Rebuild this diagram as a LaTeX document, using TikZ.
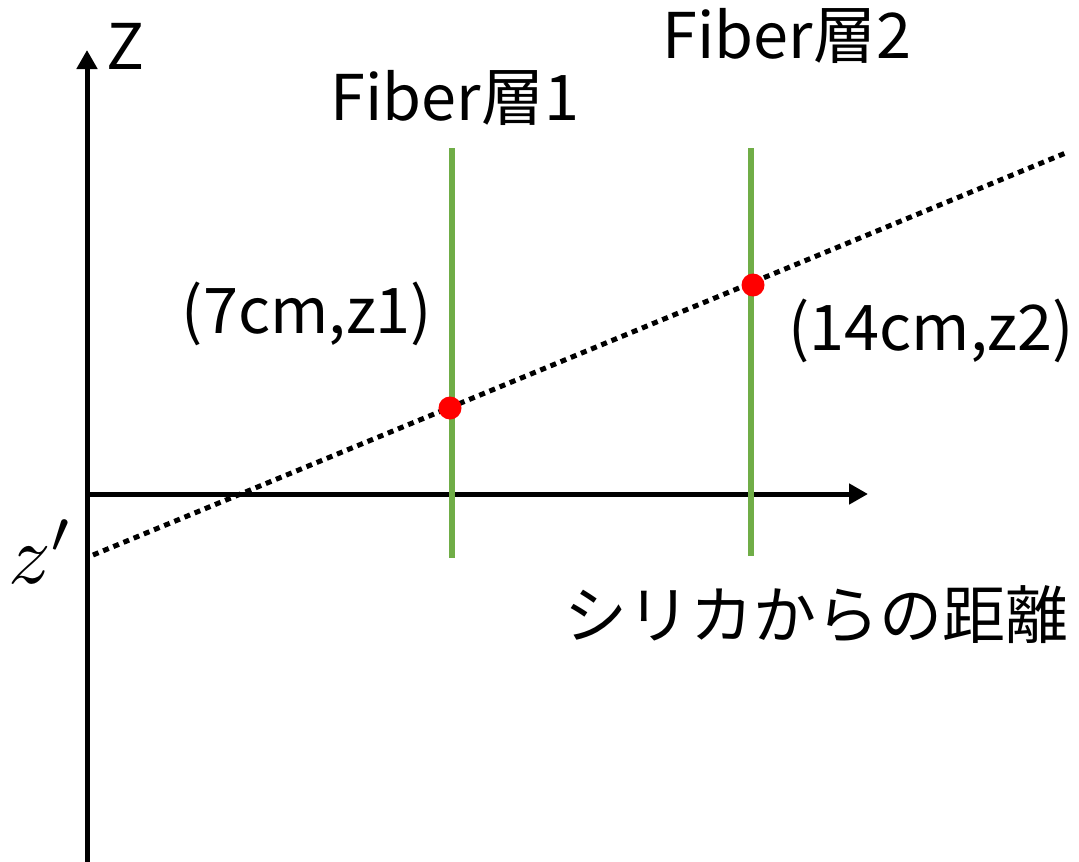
\documentclass[tikz,border=0pt]{standalone}
\usepackage{graphicx}
\usepackage{fontspec}
\setmainfont{Noto Sans CJK JP}
\usetikzlibrary{arrows.meta}
\begin{document}
\begin{tikzpicture}[x=1pt,y=-1pt,
  axisline/.style={line width=5pt,draw=black,-{Triangle[length=19pt,width=20pt]}},
  fiberline/.style={line width=6pt,draw=fibergreen},
  pathline/.style={line width=5pt,draw=black,dash pattern=on 6pt off 5pt},
  hitdot/.style={circle,fill=red,inner sep=0pt,minimum size=23pt},
  lbl/.style={font=\fontsize{63}{70}\selectfont,inner sep=0pt,anchor=base}]
\definecolor{fibergreen}{HTML}{70AD47}
\useasboundingbox (0,0) rectangle (1079,862);
% axes
\coordinate (o) at (87,494);
\coordinate (zb) at (87,862);
\coordinate (zt) at (87,50);
\coordinate (xt) at (868,494);
\draw[axisline] (zb) -- (zt);
\draw[axisline] (o) -- (xt);
% fiber layers
\coordinate (f1t) at (452,148);
\coordinate (f1b) at (452,558);
\coordinate (f2t) at (751,148);
\coordinate (f2b) at (751,556);
\draw[fiberline] (f1t) -- (f1b);
\draw[fiberline] (f2t) -- (f2b);
% track
\coordinate (ps) at (93,555);
\coordinate (pe) at (1068,152);
\draw[pathline] (ps) -- (pe);
% hit points
\node[hitdot] (h1) at (450,408) {};
\node[hitdot] (h2) at (753,285) {};
% labels
\node[lbl] (zlab) at (125,69) {Z};
\node[lbl] (fib1) at (455,120) {Fiber層1};
\node[lbl] (fib2) at (787,58) {Fiber層2};
\node[lbl] (p1) at (307,333) {(7cm,z1)};
\node[lbl] (p2) at (931,350) {(14cm,z2)};
\node[lbl] (xlab) at (816,638) {シリカからの距離};
\node[inner sep=0pt,anchor=base west] (zp) at (8,583) {\scalebox{8.4}{$z'$}};
\end{tikzpicture}
\end{document}
